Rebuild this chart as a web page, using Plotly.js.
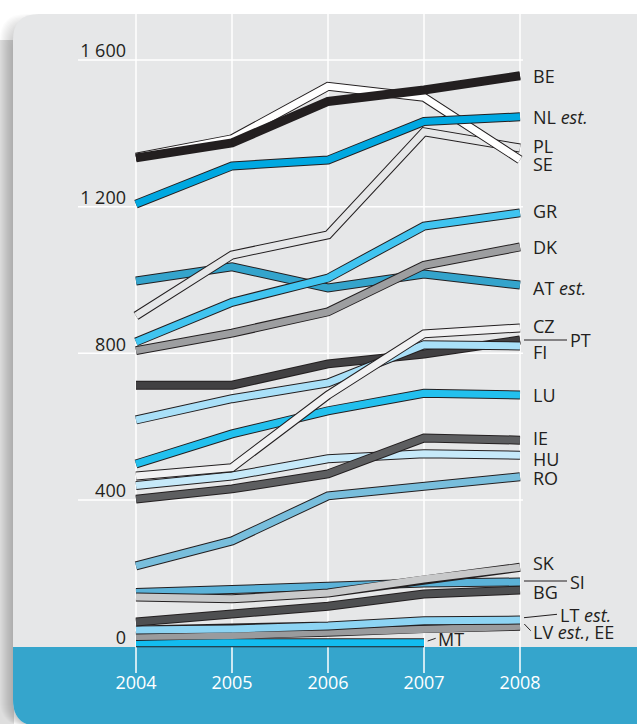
<!DOCTYPE html>
<html><head><meta charset="utf-8">
<script src="https://cdn.plot.ly/plotly-3.0.1.min.js"></script>
<style>html,body{margin:0;padding:0;background:#fff;} #chart{width:637px;height:724px;}</style>
</head><body><div id="chart"></div>
<script>
// ---- data ----
const years = [2004, 2005, 2006, 2007, 2008];
const yearLabels = ['2004', '2005', '2006', '2007', '2008'];
const yTickVals = [0, 400, 800, 1200, 1600];
const yTickText = ['0', '400', '800', '1 200', '1 600'];

const MT = [10, 10, 10, 10, null];
const LV = [30, 33, 42, 52, 58];
const EE = [27, 30, 39, 49, 55];
const LT = [45, 48, 56, 70, 72];
const BG = [67, 89, 110, 143, 154];
const SI = [147, 157, 165, 173, 176];
const SK = [135, 130, 146, 184, 216];
const RO = [220, 288, 411, 436, 463];
const HU = [439, 465, 512, 526, 522];
const IE = [402, 430, 471, 569, 563];
const LU = [498, 580, 643, 691, 686];
const PT = [713, 713, 771, 798, 836];
const FI = [618, 676, 719, 823, 820];
const CZ = [465, 488, 686, 853, 869];
const AT = [997, 1036, 978, 1016, 986];
const DK = [807, 855, 913, 1040, 1090];
const GR = [831, 939, 1005, 1147, 1183];
const PL = [902, 1068, 1123, 1404, 1360];
const SE = [1335, 1385, 1528, 1498, 1328];
const NL = [1207, 1311, 1327, 1432, 1445];
const BE = [1333, 1374, 1487, 1518, 1557];

// drawing order: bottom first
const seriesNames  = ['MT','LV','EE','LT','BG','SI','SK','RO','HU','IE','LU','PT','FI','CZ','AT','DK','GR','PL','SE','NL','BE'];
const seriesValues = [MT, LV, EE, LT, BG, SI, SK, RO, HU, IE, LU, PT, FI, CZ, AT, DK, GR, PL, SE, NL, BE];
const seriesColors = ['#13bcef','#9a9b9d','#9a9b9d','#8dd4f3','#4e4f51','#5bb2d8','#c8c9ca','#78bedc','#c6e9f9','#5d5e60','#22c0ee','#414042','#a9e0f8','#f1f1f2','#34a4cc','#9d9ea0','#40c4f0','#e6e7e8','#ffffff','#00a8e1','#231f20'];

// end labels
const labelTexts  = ['BE','NL <i>est.</i>','PL','SE','GR','DK','AT <i>est.</i>','CZ','PT','FI','LU','IE','HU','RO','SK','SI','BG','LT <i>est.</i>','LV <i>est.</i>, EE','MT'];
const labelValues = [1557, 1445, 1366, 1317, 1188, 1090, 978, 875, 836, 804, 686, 570, 512, 460, 228, 176, 149, 86, 40, 21];
const labelPx     = [531, 531, 531, 531, 531, 531, 531, 531, 568, 531, 531, 531, 531, 531, 531, 568, 531, 558, 531, 436];

// ---- layout geometry ----
const W = 637, H = 724;
const ML = 128, MR = 21, MT_ = 42, MB = 66;
const PW = W - ML - MR, PH = H - MT_ - MB;
const X0 = 2004 - (136 - ML) / 96;
const X1 = X0 + PW / 96;
const yScale = 586.5 / 1600; // px per unit
const Y0 = -(MT_ + PH - 646.5) / yScale;
const Y1 = Y0 + PH / yScale;
const px = x => (x - ML) / PW;
const py = y => (MT_ + PH - y) / PH;
const P = (x, y) => px(x).toFixed(5) + ',' + py(y).toFixed(5);

function roundedPanel(dx, dy) {
  const x0 = 13 + dx, x1 = 660, y0 = 14 + dy, y1 = 726, r = 26, r2 = 22;
  return 'M' + P(x0, y0 + r) + ' Q' + P(x0, y0) + ' ' + P(x0 + r, y0) +
    ' L' + P(x1 - r2, y0) + ' Q' + P(x1, y0) + ' ' + P(x1, y0 + r2) +
    ' L' + P(x1, y1) + ' L' + P(x0 + r, y1) + ' Q' + P(x0, y1) + ' ' + P(x0, y1 - r) + ' Z';
}

const shapes = [];
// shadow
shapes.push({type:'rect', xref:'paper', yref:'paper', x0:px(0), x1:px(14), y0:py(740), y1:py(40), line:{width:0}, fillcolor:'rgba(0,0,0,0.13)', layer:'below'});
for (let k = 13; k >= 1; k -= 1) {
  shapes.push({type:'path', xref:'paper', yref:'paper', path: roundedPanel(-k, 13 - k), line:{width:0}, fillcolor:'rgba(0,0,0,0.014)', layer:'below'});
}
// panel
shapes.push({type:'path', xref:'paper', yref:'paper', path: roundedPanel(0, 0), line:{width:0}, fillcolor:'#e6e7e8', layer:'below'});
// blue band
{
  const x0 = 13, x1 = 660, y0 = 647, y1 = 726, r = 26;
  shapes.push({type:'path', xref:'paper', yref:'paper',
    path: 'M' + P(x0, y0) + ' L' + P(x1, y0) + ' L' + P(x1, y1) + ' L' + P(x0 + r, y1) + ' Q' + P(x0, y1) + ' ' + P(x0, y1 - r) + ' Z',
    line:{width:0}, fillcolor:'#35a5cc', layer:'below'});
}
// vertical grid
years.forEach(yr => shapes.push({type:'line', xref:'x', yref:'paper', x0:yr, x1:yr, y0:py(673), y1:py(14), line:{color:'#ffffff', width:1.5}, layer:'below'}));
// horizontal grid
yTickVals.filter(v => v > 0).forEach(v => shapes.push({type:'line', xref:'paper', yref:'y', x0:px(78), x1:px(523), y0:v, y1:v, line:{color:'#ffffff', width:1.5}, layer:'below'}));
// label connectors
const conn = [[524,340,567,340],[524,581,567,581],[524,617.7,557,614.3],[524.3,624,530.7,630.7],[427.7,641,435.7,638.3]];
conn.forEach(c => shapes.push({type:'line', xref:'paper', yref:'paper', x0:px(c[0]), y0:py(c[1]), x1:px(c[2]), y1:py(c[3]), line:{color:'#231f20', width:1}}));

// traces: outline + fill for each series
const traces = [];
seriesNames.forEach((n, i) => {
  traces.push({x: years, y: seriesValues[i], type:'scatter', mode:'lines', name:n + ' outline', showlegend:false, hoverinfo:'skip',
    line:{color:'#231f20', width:9}, connectgaps:false});
  traces.push({x: years, y: seriesValues[i], type:'scatter', mode:'lines', name:n, showlegend:false,
    line:{color:seriesColors[i], width:7}, connectgaps:false});
});

const annotations = labelTexts.map((t, i) => ({
  text: t, xref:'paper', yref:'y', x: px(labelPx[i]), y: labelValues[i], xanchor:'left', yanchor:'middle',
  showarrow:false, font:{family:'Open Sans, sans-serif', size:18, color:'#231f20'}
}));

const layout = {
  width: W, height: H,
  margin: {l: ML, r: MR, t: MT_, b: MB, pad: 0},
  paper_bgcolor: '#ffffff', plot_bgcolor: 'rgba(0,0,0,0)',
  showlegend: false,
  font: {family: 'Open Sans, sans-serif', size: 18, color: '#231f20'},
  xaxis: {range: [X0, X1], tickvals: years, ticktext: yearLabels, showgrid:false, zeroline:false, showline:false, ticks:'',
    tickfont:{color:'#ffffff', size:18, family:'Open Sans, sans-serif'}, ticklabelstandoff: 12, fixedrange:true},
  yaxis: {range: [Y0, Y1], tickvals: yTickVals, ticktext: yTickText, showgrid:false, zeroline:false, showline:false, ticks:'',
    tickfont:{color:'#231f20', size:18, family:'Open Sans, sans-serif'}, ticklabelshift: -9, ticklabelstandoff: 1, fixedrange:true},
  shapes: shapes,
  annotations: annotations
};

Plotly.newPlot('chart', traces, layout, {staticPlot:true, displayModeBar:false});
</script>
</body></html>
